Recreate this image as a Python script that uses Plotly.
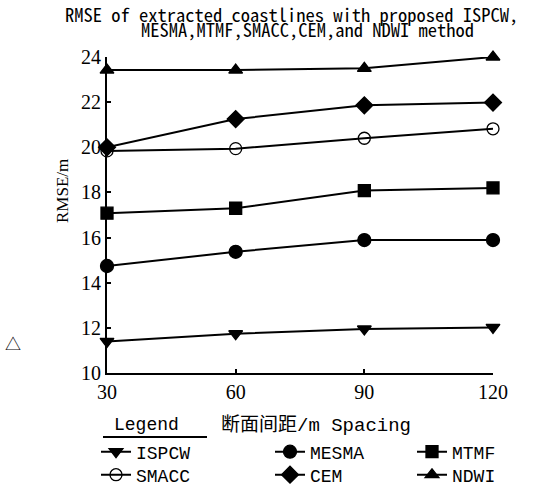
import plotly.graph_objects as go

# Section spacing (m) and RMSE (m) of each coastline extraction method
spacing = [30, 60, 90, 120]
ispcw = [11.40, 11.74, 11.95, 12.02]
mesma = [14.74, 15.37, 15.89, 15.89]
mtmf = [17.08, 17.30, 18.08, 18.20]
smacc = [19.84, 19.94, 20.40, 20.82]
cem = [20.00, 21.25, 21.86, 21.98]
ndwi = [23.42, 23.42, 23.50, 24.00]

x_ticks = [30, 60, 90, 120]
y_ticks = [10, 12, 14, 16, 18, 20, 22, 24]

W, H = 558, 490
L, R, T, B = 107, 65, 57, 117

MONO = "Liberation Mono, Noto Sans CJK SC, monospace"
TITLE_FONT = "Noto Sans Mono CJK SC, Noto Sans CJK SC, Liberation Mono, monospace"
SERIF = "Liberation Serif, DejaVu Serif, serif"

# name, values, marker symbol, legend slot (left px of entry, row centre px)
series = [
    ("ISPCW", ispcw, "triangle-down", "legend", 96, 452),
    ("MESMA", mesma, "circle", "legend2", 270, 452),
    ("MTMF", mtmf, "square", "legend3", 412, 452),
    ("SMACC", smacc, "circle-open", "legend4", 96, 475),
    ("CEM", cem, "diamond", "legend5", 270, 475),
    ("NDWI", ndwi, "triangle-up", "legend6", 412, 475),
]
marker_size = {"triangle-down": 12, "triangle-up": 12, "circle": 13,
               "circle-open": 12, "diamond": 13, "square": 12}

fig = go.Figure()
for name, vals, sym, leg, _, _ in series:
    fig.add_trace(go.Scatter(
        x=spacing, y=vals, name=name, mode="lines+markers",
        line=dict(color="black", width=2),
        marker=dict(symbol=sym, size=marker_size[sym], color="black",
                    line=dict(color="black", width=1.3)),
        cliponaxis=False, legend=leg,
    ))


def px_x(p):
    return (p - L) / (W - L - R)


def px_y(p):
    return (H - B - p) / (H - T - B)


legend_common = dict(
    orientation="v", xref="container", yref="container",
    xanchor="left", yanchor="middle", bgcolor="rgba(0,0,0,0)",
    font=dict(family=MONO, size=18, color="black"),
    itemwidth=30, tracegroupgap=0,
)
legends = {}
for _, _, _, leg, lx, ly in series:
    legends[leg] = dict(x=lx / W, y=1 - ly / H, **legend_common)

fig.update_layout(
    width=W, height=H,
    margin=dict(l=L, r=R, t=T, b=B, autoexpand=False),
    paper_bgcolor="white", plot_bgcolor="white",
    showlegend=True,
    **legends,
    xaxis=dict(
        range=[30, 120], tickvals=x_ticks, ticktext=[str(v) for v in x_ticks],
        showgrid=False, zeroline=False, showline=True, linecolor="black",
        linewidth=2, ticks="inside", ticklen=4, tickwidth=1.5, tickcolor="black",
        tickfont=dict(family=SERIF, size=20, color="black"),
    ),
    yaxis=dict(
        range=[10, 24], tickvals=y_ticks, ticktext=[str(v) for v in y_ticks],
        showgrid=False, zeroline=False, showline=True, linecolor="black",
        linewidth=2, ticks="inside", ticklen=4, tickwidth=1.5, tickcolor="black",
        tickfont=dict(family=SERIF, size=20, color="black"),
    ),
)

annotations = [
    dict(text="RMSE of extracted coastlines with proposed ISPCW,",
         x=px_x(291), y=px_y(14), font=dict(family=TITLE_FONT, size=18.5)),
    dict(text="MESMA,MTMF,SMACC,CEM,and NDWI method",
         x=px_x(307), y=px_y(29), font=dict(family=TITLE_FONT, size=18.5)),
    dict(text="RMSE/m", textangle=-90,
         x=px_x(62), y=px_y(191), font=dict(family=SERIF, size=17)),
    dict(text="△", x=px_x(13), y=px_y(343),
         font=dict(family="Noto Sans CJK SC", size=16)),
    dict(text="Legend", x=px_x(146), y=px_y(425),
         font=dict(family=MONO, size=18)),
    dict(text="断面间距/m Spacing", x=px_x(316), y=px_y(425),
         font=dict(family=MONO, size=19)),
]
for a in annotations:
    a.update(xref="paper", yref="paper", showarrow=False,
             xanchor="center", yanchor="middle")
    a["font"]["color"] = "black"
fig.update_layout(annotations=annotations)

# underline beneath the legend header
fig.add_shape(type="line", xref="paper", yref="paper",
              x0=px_x(103), x1=px_x(207), y0=px_y(437), y1=px_y(437),
              line=dict(color="black", width=2))

fig.write_html("out.html")
